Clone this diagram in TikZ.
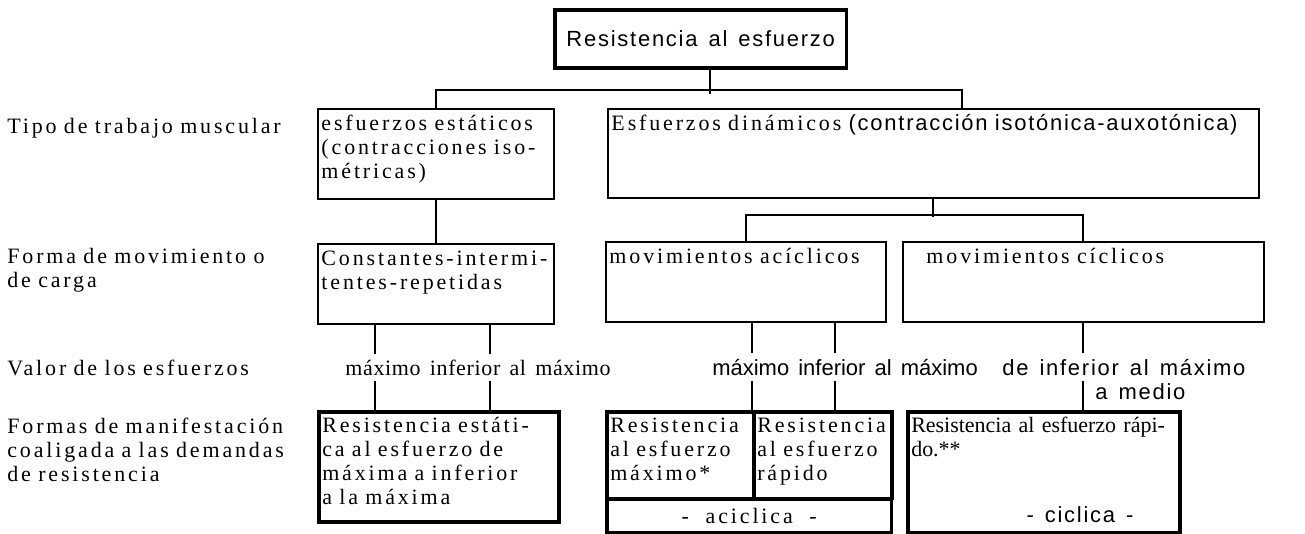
\documentclass[tikz,border=0pt]{standalone}
\usepackage{fontspec}
\setmainfont{Liberation Serif}[LetterSpace=13, WordSpace=2]
\newfontfamily\sansf{Liberation Sans}[LetterSpace=8, WordSpace=1.4]
\newfontfamily\sansv{Liberation Sans}[WordSpace=1.5]
\newfontfamily\valf{Liberation Serif}[LetterSpace=3, WordSpace=1.5]
\newfontfamily\plainf{Liberation Serif}

\tikzset{
  box/.style={draw, line width=1.1pt, anchor=north west, align=left,
              inner xsep=2pt, inner ysep=4pt, text height=8pt, text width=#1},
  thickbox/.style={box=#1, line width=2pt},
  lbl/.style={anchor=north west, align=left, inner sep=0pt, text height=8pt, text width=6.2cm},
  val/.style={anchor=base west, inner xsep=0pt, inner ysep=3pt},
  conn/.style={line width=1.1pt}
}

\begin{document}
\begin{tikzpicture}[x=0.02cm, y=-0.02cm, font=\fontsize{12.5}{13.66}\selectfont]
  \useasboundingbox (0,0) rectangle (1305,534);

  % top
  \node[draw, line width=2pt, anchor=north west, minimum width=5.84cm, minimum height=1.16cm]
        (title) at (553,8) {\sansf Resistencia al esfuerzo};

  % row labels
  \node[lbl] (tipo)   at (7,119) {Tipo de trabajo muscular};
  \node[lbl] (forma)  at (7,249) {Forma de movimiento o\\de carga};
  \node[lbl] (valor)  at (7,361) {Valor de los esfuerzos};
  \node[lbl] (formas) at (7,419) {Formas de manifestación\\coaligada a las demandas\\de resistencia};

  % tipo de trabajo
  \node[box=4.58cm, text depth=35.2pt]  (estat) at (317,108) {esfuerzos estáticos\\(contracciones iso-\\métricas)};
  \node[box=12.88cm, text depth=34.6pt] (din)   at (607,108) {Esfuerzos dinámicos {\sansf (contracción isotónica-auxotónica)}};

  % forma de movimiento
  \node[box=4.58cm, text depth=29.5pt] (const) at (317,243) {Constantes-intermi-\\tentes-repetidas};
  \node[box=5.46cm, text depth=29.5pt] (acic)  at (605,241) {movimientos acíclicos};
  \node[box=7.08cm, text depth=29.5pt] (cicl)  at (902,241) {\hspace*{0.4cm}movimientos cíclicos};

  % valor de los esfuerzos
  \node[val] (g1) at (345,375)  {\valf máximo inferior al máximo};
  \node[val] (g2) at (712,375)  {\sansv máximo inferior al máximo};
  \node[val] (g3) at (1002,375) {\sansf de inferior al máximo};
  \node[val] (g4) at (1095,399) {\sansf a medio};

  % formas de manifestacion
  \node[thickbox=4.66cm, text depth=46.6pt] (est2)  at (317,410) {Resistencia estáti-\\ca al esfuerzo de\\máxima a inferior\\a la máxima};
  \node[thickbox=2.80cm, text depth=33.5pt] (rmax)  at (605,410) {Resistencia\\al esfuerzo\\máximo*};
  \node[thickbox=2.62cm, text depth=33.5pt] (rrap)  at (752,410) {Resistencia\\al esfuerzo\\rápido};
  \node[draw, line width=2pt, anchor=north west, minimum width=5.7cm, minimum height=0.68cm]
        (acic2) at (605,497) {- aciclica -};
  \node[thickbox=5.30cm, text depth=52.8pt] (cicl2) at (906,410) {\plainf Resistencia al esfuerzo rápi-\\do.**};
  \node[anchor=base] (cicl3) at (1080,522) {\sansf - ciclica -};

  \coordinate (t0) at (710,0);
  \coordinate (t1) at (962,0);
  \coordinate (k1) at (375,0);
  \coordinate (k2) at (490,0);
  \coordinate (k3) at (752,0);
  \coordinate (k4) at (835,0);

  % connectors
  \draw[conn] (title.south -| t0) -- ++(0,24);
  \draw[conn] (estat.north) -- ++(0,-18) -| (t1 |- din.north);
  \draw[conn] (estat.south) -- (const.north);
  \draw[conn] (din.south) -- ++(0,18);
  \draw[conn] (acic.north) -- ++(0,-26) -| (cicl.north);

  \draw[conn] (const.south -| k1) -- (k1 |- g1.north);
  \draw[conn] (k1 |- g1.south) -- (k1 |- est2.north);
  \draw[conn] (const.south -| k2) -- (k2 |- g1.north);
  \draw[conn] (k2 |- g1.south) -- (k2 |- est2.north);
  \draw[conn] (acic.south -| k3) -- (k3 |- g2.north);
  \draw[conn] (k3 |- g2.south) -- (k3 |- rmax.north);
  \draw[conn] (acic.south -| k4) -- (k4 |- g2.north);
  \draw[conn] (k4 |- g2.south) -- (k4 |- rrap.north);
  \draw[conn] (cicl.south) -- (cicl.south |- g3.north);
  \draw[conn] (cicl.south |- g3.south) -- (cicl.south |- cicl2.north);
\end{tikzpicture}
\end{document}
